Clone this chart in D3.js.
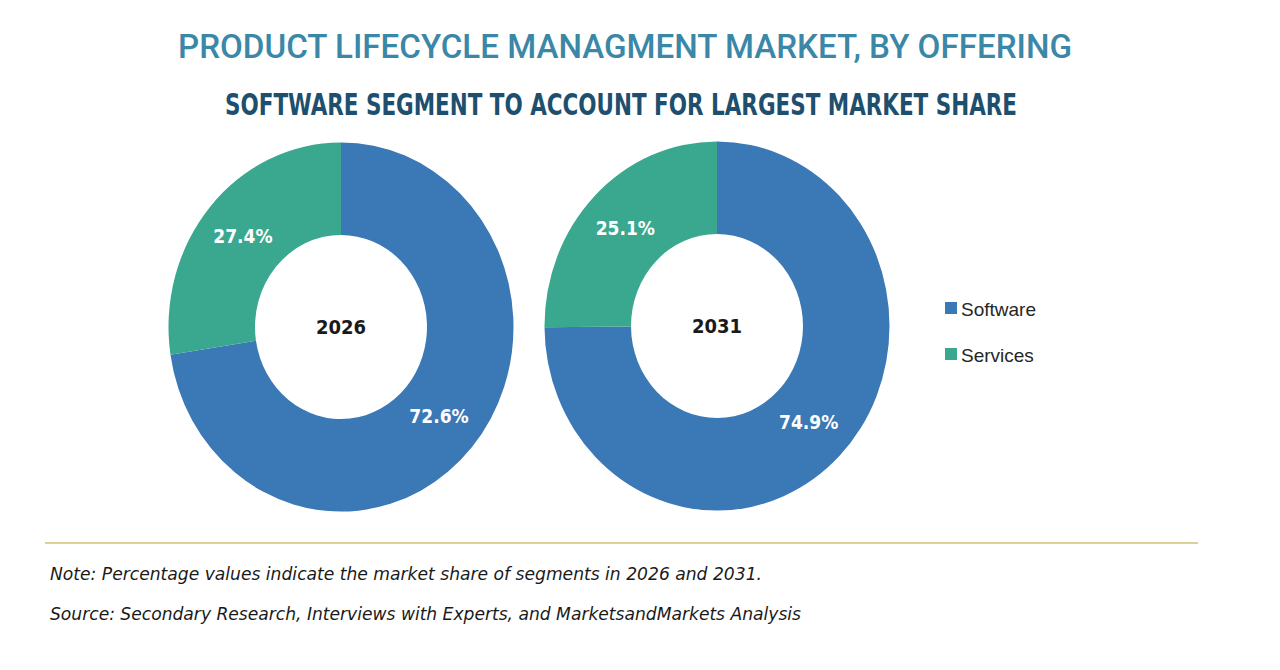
<!DOCTYPE html>
<html>
<head>
<meta charset="utf-8">
<script src="https://cdn.jsdelivr.net/npm/d3@7"></script>
<style>
  html, body { margin: 0; padding: 0; background: #ffffff; }
  svg { display: block; }
</style>
</head>
<body>
<svg id="chart" width="1280" height="670"></svg>
<script>
// ---- Data ----
const years = ["2026", "2031"];
const segments = ["Software", "Services"];
const share2026 = [72.6, 27.4];
const share2031 = [74.9, 25.1];
const segmentColors = ["#3b78b6", "#3aa88f"];

const titleText = "PRODUCT LIFECYCLE MANAGMENT MARKET, BY OFFERING";
const subtitleText = "SOFTWARE SEGMENT TO ACCOUNT FOR LARGEST MARKET SHARE";
const noteText = "Note: Percentage values indicate the market share of segments in 2026 and 2031.";
const sourceText = "Source: Secondary Research, Interviews with Experts, and MarketsandMarkets Analysis";

const condensed = "'Liberation Sans Narrow', 'DejaVu Sans Condensed', 'Roboto Condensed', Roboto, sans-serif";

const svg = d3.select("#chart");

// ---- Titles ----
svg.append("text")
  .attr("x", 625).attr("y", 58)
  .attr("text-anchor", "middle")
  .attr("font-family", "Roboto, 'DejaVu Sans Condensed', sans-serif")
  .attr("font-weight", 500)
  .attr("font-size", 34)
  .attr("fill", "#3a87a8")
  .attr("textLength", 894).attr("lengthAdjust", "spacingAndGlyphs")
  .text(titleText);

svg.append("text")
  .attr("x", 621).attr("y", 115)
  .attr("text-anchor", "middle")
  .attr("font-family", condensed)
  .attr("font-weight", "bold")
  .attr("font-size", 30)
  .attr("fill", "#1e4f6e")
  .attr("textLength", 792).attr("lengthAdjust", "spacingAndGlyphs")
  .text(subtitleText);

// ---- Donuts ----
const color = d3.scaleOrdinal().domain(segments).range(segmentColors);
const pie = d3.pie().sort(null).value(d => d.value);
const outerR = 172.5, innerR = 86, yScale = 1.07;
const arc = d3.arc().innerRadius(innerR).outerRadius(outerR);

const donuts = [
  { year: years[0], values: share2026, cx: 341, cy: 327 },
  { year: years[1], values: share2031, cx: 717, cy: 326 }
];

donuts.forEach(dn => {
  const data = segments.map((s, i) => ({ name: s, value: dn.values[i] }));
  const arcs = pie(data);
  const g = svg.append("g").attr("transform", `translate(${dn.cx},${dn.cy})`);
  g.append("g").attr("transform", `scale(1,${yScale})`)
    .selectAll("path").data(arcs).enter().append("path")
    .attr("d", arc)
    .attr("fill", d => color(d.data.name));

  g.selectAll("text.lbl").data(arcs).enter().append("text")
    .attr("class", "lbl")
    .attr("x", d => arc.centroid(d)[0])
    .attr("y", d => arc.centroid(d)[1] * yScale + 6)
    .attr("text-anchor", "middle")
    .attr("font-family", condensed)
    .attr("font-weight", "bold")
    .attr("font-size", 19)
    .attr("fill", "#ffffff")
    .text(d => d.data.value.toFixed(1) + "%");

  g.append("text")
    .attr("x", 0).attr("y", 7)
    .attr("text-anchor", "middle")
    .attr("font-family", condensed)
    .attr("font-weight", "bold")
    .attr("font-size", 20)
    .attr("fill", "#1a1a1a")
    .text(dn.year);
});

// ---- Legend ----
const legend = svg.append("g").attr("transform", "translate(945,302)");
segments.forEach((s, i) => {
  const row = legend.append("g").attr("transform", `translate(0,${i * 46})`);
  row.append("rect").attr("x", 0).attr("y", 0).attr("width", 12).attr("height", 12)
    .attr("fill", color(s));
  row.append("text").attr("x", 16).attr("y", 14)
    .attr("font-family", "'Liberation Sans', Arial, sans-serif")
    .attr("font-size", 19)
    .attr("fill", "#262626")
    .text(s);
});

// ---- Separator ----
svg.append("line")
  .attr("x1", 45).attr("x2", 1198)
  .attr("y1", 543).attr("y2", 543)
  .attr("stroke", "#d2c074").attr("stroke-width", 1.3);

// ---- Notes ----
svg.append("text")
  .attr("x", 50).attr("y", 580)
  .attr("font-family", condensed)
  .attr("font-style", "italic")
  .attr("font-size", 17)
  .attr("fill", "#1a1a1a")
  .attr("textLength", 712).attr("lengthAdjust", "spacingAndGlyphs")
  .text(noteText);

svg.append("text")
  .attr("x", 50).attr("y", 620)
  .attr("font-family", condensed)
  .attr("font-style", "italic")
  .attr("font-size", 17)
  .attr("fill", "#1a1a1a")
  .attr("textLength", 751).attr("lengthAdjust", "spacingAndGlyphs")
  .text(sourceText);
</script>
</body>
</html>
